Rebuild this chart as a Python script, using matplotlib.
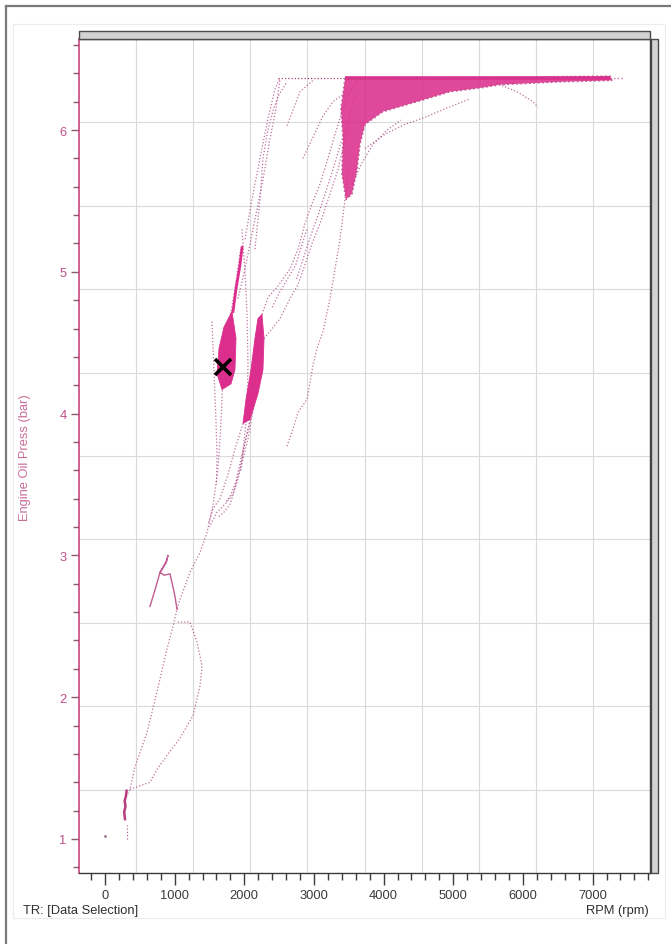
import matplotlib
matplotlib.use('Agg')
import matplotlib.pyplot as plt
from matplotlib.patches import Rectangle
from matplotlib.lines import Line2D
from matplotlib.ticker import MultipleLocator, FixedLocator

plt.rcParams['font.family'] = ['Liberation Sans', 'DejaVu Sans']

# ---------------- data (RPM, Engine Oil Press in bar) ----------------
x_tick_values = [0, 1000, 2000, 3000, 4000, 5000, 6000, 7000]
y_tick_values = [1, 2, 3, 4, 5, 6]

# long lower trace from idle up to the left blob
low_rpm = [287, 287, 359, 431, 603, 747, 890, 976, 1034, 1077, 1220, 1364, 1464, 1550,
           1622, 1651, 1680, 1694, 1766, 1866, 1938, 1981]
low_bar = [1.14, 1.28, 1.35, 1.51, 1.75, 2.04, 2.34, 2.50, 2.62, 2.69, 2.88, 3.02, 3.16, 3.35,
           3.61, 3.82, 4.10, 4.31, 4.60, 4.88, 5.13, 5.20]

# lower loop to the right
loop_rpm = [359, 646, 747, 890, 1077, 1263, 1364, 1393, 1321, 1220, 1019]
loop_bar = [1.35, 1.40, 1.49, 1.59, 1.71, 1.87, 2.08, 2.22, 2.39, 2.53, 2.53]

# hook near 2.6-3.0 bar
hook_rpm = [646, 720, 790, 860, 890, 904, 880, 790, 850, 933, 975, 1005, 1034]
hook_bar = [2.64, 2.76, 2.88, 2.94, 2.97, 3.00, 2.95, 2.88, 2.86, 2.87, 2.78, 2.71, 2.62]

# idle streak
idle_rpm = [287, 275, 295, 282, 300, 310]
idle_bar = [1.14, 1.19, 1.23, 1.27, 1.30, 1.34]
idle_dot_rpm = [0, 316, 316]
idle_dot_bar = [1.02, 1.00, 1.10]

# band under the 2200 rpm blob
band1_rpm = [2082, 2010, 1938, 1838, 1723, 1600, 1500]
band1_bar = [3.96, 3.79, 3.61, 3.43, 3.36, 3.30, 3.20]
band2_rpm = [1981, 1866, 1766, 1651, 1550, 1480]
band2_bar = [3.93, 3.75, 3.57, 3.40, 3.33, 3.22]
band3_rpm = [2153, 2053, 1909, 1795, 1700, 1620]
band3_bar = [4.10, 3.82, 3.54, 3.36, 3.30, 3.27]
band4_rpm = [2110, 2040, 1960, 1880, 1800, 1740]
band4_bar = [4.00, 3.86, 3.70, 3.52, 3.42, 3.38]

# near-vertical trace between the blobs
mid_rpm = [1967, 2010, 2039, 2053, 2039, 1995, 1950]
mid_bar = [5.30, 5.00, 4.70, 4.35, 4.00, 3.80, 3.60]

# sparse trace left of the 1700 rpm blob
leftsp_rpm = [1536, 1565, 1593, 1608, 1600]
leftsp_bar = [4.65, 4.30, 3.95, 3.70, 3.50]

# rising traces to the top plateau
up1_rpm = [2254, 2340, 2484, 2656, 2771, 2871, 2972, 3087, 3201, 3302, 3402, 3517, 3632]
up1_bar = [4.70, 4.82, 4.90, 5.02, 5.16, 5.34, 5.48, 5.62, 5.80, 5.97, 6.13, 6.27, 6.36]
up2_rpm = [2010, 2110, 2225, 2340, 2441, 2512]
up2_bar = [5.23, 5.51, 5.80, 6.08, 6.29, 6.37]
up3_rpm = [1909, 2010, 2153, 2268, 2369, 2455, 2512]
up3_bar = [4.81, 5.02, 5.37, 5.65, 5.94, 6.15, 6.36]
up4_rpm = [2283, 2400, 2512, 2656, 2771, 2871, 2972, 3087, 3230, 3345, 3445, 3517, 3589]
up4_bar = [4.53, 4.60, 4.67, 4.81, 4.91, 5.05, 5.20, 5.34, 5.55, 5.72, 5.94, 6.11, 6.25]
up5_rpm = [2613, 2699, 2771, 2900, 2986, 3044, 3130, 3230, 3302, 3374, 3445, 3488]
up5_bar = [3.77, 3.89, 4.01, 4.10, 4.34, 4.46, 4.58, 4.81, 5.02, 5.23, 5.51, 5.72]
up6_rpm = [2613, 2800, 2986]
up6_bar = [6.03, 6.27, 6.35]
up7_rpm = [2842, 3130, 3273, 3474]
up7_bar = [5.80, 6.10, 6.20, 6.27]
up8_rpm = [2153, 2225, 2268, 2340, 2420, 2500, 2600]
up8_bar = [5.16, 5.51, 5.80, 6.00, 6.15, 6.25, 6.33]
up9_rpm = [2750, 2850, 2950, 3060, 3160, 3260, 3350, 3445]
up9_bar = [4.95, 5.10, 5.25, 5.40, 5.55, 5.70, 5.85, 6.00]
up10_rpm = [2400, 2500, 2620, 2740, 2800, 2900]
up10_bar = [4.75, 4.85, 4.95, 5.05, 5.15, 5.30]

# fringe below the plateau cluster
fringe_rpm = [3733, 4020, 4307, 4594, 4881, 5240]
fringe_bar = [5.87, 5.97, 6.04, 6.09, 6.15, 6.22]
fringe2_rpm = [3550, 3700, 3850, 4050, 4250]
fringe2_bar = [5.62, 5.78, 5.90, 6.00, 6.07]

# trail descending at high rpm
trail_rpm = [5570, 5915, 6144, 6216]
trail_bar = [6.34, 6.27, 6.20, 6.16]

# plateau (pressure relief) line
plateau_rpm = [2484, 3445, 7250, 7432]
plateau_bar = [6.37, 6.37, 6.37, 6.37]

# dense areas (outlines)
blob_left_rpm = [1823, 1881, 1866, 1809, 1680, 1608, 1637, 1708]
blob_left_bar = [4.72, 4.53, 4.31, 4.21, 4.17, 4.28, 4.46, 4.61]
streak_left_rpm = [1838, 1881, 1938, 1967]
streak_left_bar = [4.72, 4.88, 5.05, 5.17]
blob_right_rpm = [2254, 2283, 2268, 2196, 2082, 1981, 2024, 2096, 2153, 2196]
blob_right_bar = [4.70, 4.53, 4.31, 4.14, 3.96, 3.93, 4.10, 4.31, 4.53, 4.67]
cluster_rpm = [3445, 7250, 7278, 6532, 5671, 5427, 4953, 4479, 3991, 3733, 3661, 3618,
               3546, 3460, 3402, 3417, 3388]
cluster_bar = [6.36, 6.38, 6.35, 6.34, 6.32, 6.30, 6.27, 6.20, 6.13, 6.04, 5.90, 5.72,
               5.55, 5.51, 5.69, 5.94, 6.15]

# marker
marker_rpm = [1693]
marker_bar = [4.33]

# ---------------- figure ----------------
W, H = 671, 945
fig = plt.figure(figsize=(W / 100, H / 100), dpi=100)
fig.patch.set_facecolor('white')

def fx(px):
    return px / W

def fy(py):
    return 1 - py / H

# outer frame and inner panel
fig.add_artist(Line2D([fx(6), fx(6)], [0, fy(7)], color='#7a7a7a', lw=1.6))
fig.add_artist(Line2D([fx(6), 1], [fy(7), fy(7)], color='#7a7a7a', lw=1.6))
fig.add_artist(Rectangle((fx(13), fy(919)), fx(665) - fx(13), fy(25) - fy(919),
                         fill=False, ec='#ececec', lw=0.8))

ax_l, ax_r, ax_t, ax_b = 79, 650, 40, 874
ax = fig.add_axes([fx(ax_l), fy(ax_b), fx(ax_r) - fx(ax_l), fy(ax_t) - fy(ax_b)])
ax.set_xlim(-373, 7824)
ax.set_ylim(0.760, 6.642)

# grid: ten equal divisions of the frame
for k in range(1, 10):
    ax.plot([k / 10, k / 10], [0, 1], transform=ax.transAxes, color='#dadada', lw=0.8, zorder=0)
    ax.plot([0, 1], [k / 10, k / 10], transform=ax.transAxes, color='#dadada', lw=0.8, zorder=0)

trace_col = '#a8427c'
dense_col = '#dc2f8d'
dot = (0, (1, 1.6))

dotted_traces = [
    (low_rpm, low_bar), (loop_rpm, loop_bar), (band1_rpm, band1_bar), (band2_rpm, band2_bar),
    (band3_rpm, band3_bar), (band4_rpm, band4_bar), (mid_rpm, mid_bar),
    (leftsp_rpm, leftsp_bar),
    (up1_rpm, up1_bar), (up2_rpm, up2_bar), (up3_rpm, up3_bar), (up4_rpm, up4_bar),
    (up5_rpm, up5_bar), (up6_rpm, up6_bar), (up7_rpm, up7_bar), (up8_rpm, up8_bar),
    (up9_rpm, up9_bar), (up10_rpm, up10_bar),
    (fringe_rpm, fringe_bar), (fringe2_rpm, fringe2_bar), (trail_rpm, trail_bar),
]
for xs, ys in dotted_traces:
    ax.plot(xs, ys, ls=dot, lw=0.9, color=trace_col, alpha=0.75, zorder=2)

ax.plot(hook_rpm, hook_bar, lw=1.0, color='#b8407e', alpha=0.85, zorder=2)
ax.plot(idle_rpm, idle_bar, lw=1.8, color='#b8407e', zorder=2)
ax.plot(idle_dot_rpm[:1], idle_dot_bar[:1], ls='none', marker='.', ms=2, color='#a07090')
ax.plot(idle_dot_rpm[1:], idle_dot_bar[1:], ls=dot, lw=0.9, color='#b06090')

# plateau line
ax.plot(plateau_rpm[:2], plateau_bar[:2], ls=dot, lw=0.9, color=trace_col, zorder=2)
ax.plot(plateau_rpm[1:3], plateau_bar[1:3], lw=2.6, color=dense_col, solid_capstyle='butt', zorder=3)
ax.plot(plateau_rpm[2:], plateau_bar[2:], ls=dot, lw=1.0, color='#d070a8', zorder=3)

# dense areas
ax.fill(blob_left_rpm, blob_left_bar, color=dense_col, lw=0.6, zorder=3)
ax.plot(streak_left_rpm, streak_left_bar, lw=2.0, color=dense_col, zorder=3)
ax.fill(blob_right_rpm, blob_right_bar, color=dense_col, lw=0.6, zorder=3)
ax.fill(cluster_rpm, cluster_bar, fc=dense_col, ec='#c04a88', ls=dot, lw=1.2, alpha=0.88, zorder=3)

# cursor mark
ax.plot(marker_rpm, marker_bar, ls='none', marker='x', ms=11, mew=2.6, color='black', zorder=5)

# spines & ticks
for s in ['top', 'right', 'bottom']:
    ax.spines[s].set_color('#3c3c3c')
    ax.spines[s].set_linewidth(1.0)
ax.spines['left'].set_color('#c8467a')
ax.spines['left'].set_linewidth(1.2)

ax.xaxis.set_major_locator(FixedLocator(x_tick_values))
ax.xaxis.set_minor_locator(MultipleLocator(200))
ax.yaxis.set_major_locator(FixedLocator(y_tick_values))
ax.yaxis.set_minor_locator(MultipleLocator(0.2))
ax.set_xticklabels([str(v) for v in x_tick_values])
ax.set_yticklabels([str(v) for v in y_tick_values])

ax.tick_params(axis='x', which='major', direction='out', length=8.5, width=1.0,
               color='#3c3c3c', labelcolor='#3a3a3a', labelsize=9.3, pad=3)
ax.tick_params(axis='x', which='minor', direction='out', length=5, width=1.0, color='#3c3c3c')
ax.tick_params(axis='y', which='major', direction='out', length=6, width=1.0,
               color='#8a5a70', labelcolor='#c0508a', labelsize=9.3, pad=3)
ax.tick_params(axis='y', which='minor', direction='out', length=4, width=1.0, color='#8a5a70')

# 3D-ish frame bars
fig.add_artist(Rectangle((fx(79), fy(39.5)), fx(650) - fx(79), fy(32) - fy(39.5),
                         fc='#d2d2d2', ec='#4a4a4a', lw=1.0))
fig.add_artist(Rectangle((fx(650.5), fy(874)), fx(658) - fx(650.5), fy(40) - fy(874),
                         fc='#d2d2d2', ec='#4a4a4a', lw=1.0))

# texts
fig.text(fx(25), fy(458), 'Engine Oil Press (bar)', rotation=90, ha='center', va='center',
         fontsize=9.3, color='#c86e98')
fig.text(fx(23), fy(911), 'TR: [Data Selection]', ha='left', va='center', fontsize=9.3,
         color='#2e2e2e')
fig.text(fx(649), fy(911), 'RPM (rpm)', ha='right', va='center', fontsize=9.3, color='#2e2e2e')

fig.savefig('out.png', dpi=100, facecolor='white')
